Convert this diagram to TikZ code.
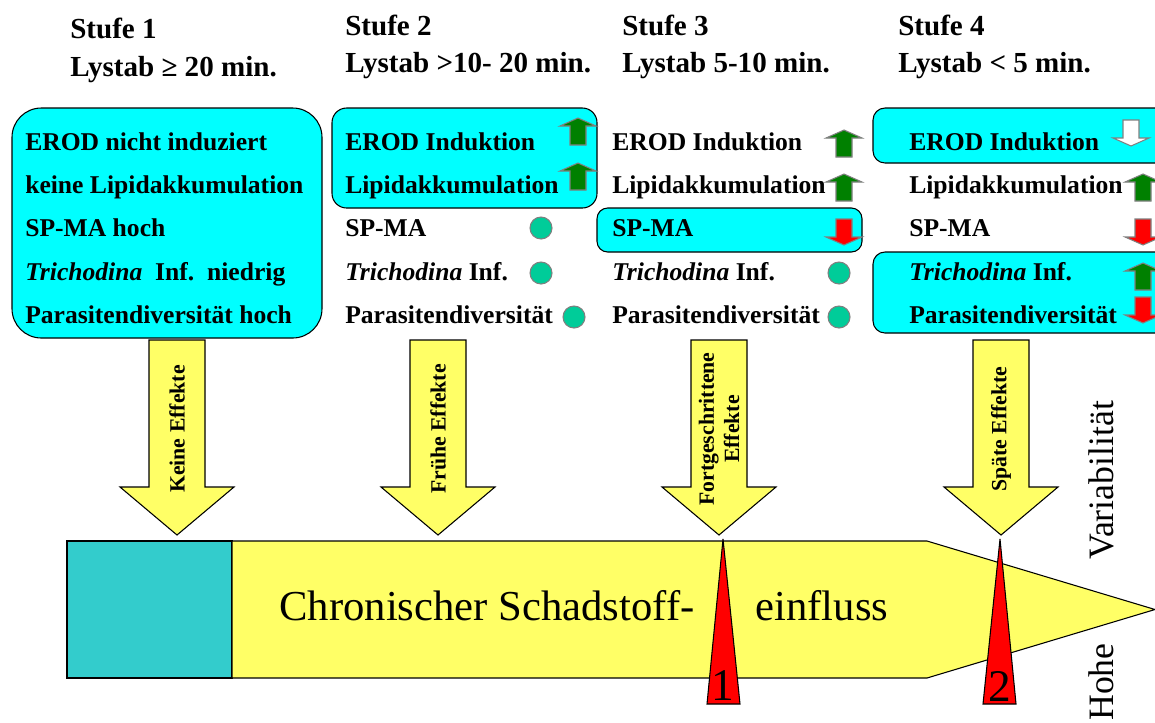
\documentclass[tikz,border=0pt]{standalone}
\usepackage{fontspec}
\setmainfont{LiberationSerif}[Extension=.ttf,UprightFont=*-Regular,BoldFont=*-Bold,
  ItalicFont=*-Italic,BoldItalicFont=*-BoldItalic]
\usetikzlibrary{positioning}
\definecolor{boxcyan}{rgb}{0,1,1}
\definecolor{bandcyan}{RGB}{51,204,204}
\definecolor{bandyellow}{RGB}{255,255,102}
\definecolor{upgreen}{RGB}{0,128,0}
\definecolor{dotgreen}{RGB}{0,204,153}

% small block arrows: x, tip/top y, fill
\newcommand{\uparr}[3]{%
  \filldraw[fill=#3,draw=gray,line width=0.8pt] (#1,#2) -- (#1+18,#2+8) -- (#1+8,#2+8)
    -- (#1+8,#2+27) -- (#1-8,#2+27) -- (#1-8,#2+8) -- (#1-18,#2+8) -- cycle;}
\newcommand{\downarr}[3]{%
  \filldraw[fill=#3,draw=gray,line width=0.8pt] (#1-8,#2) -- (#1+8,#2) -- (#1+8,#2+18)
    -- (#1+18,#2+18) -- (#1,#2+26) -- (#1-18,#2+18) -- (#1-8,#2+18) -- cycle;}

\begin{document}
\begin{tikzpicture}[x=0.75pt,y=-0.75pt,
    hdr/.style={anchor=base west,inner sep=0pt,font=\fontsize{21.8}{26}\selectfont\bfseries},
    row/.style={anchor=base west,inner sep=0pt,font=\fontsize{19.2}{23}\selectfont\bfseries},
    cbox/.style={draw=black,fill=boxcyan,line width=0.8pt},
    dot/.style={circle,draw=gray,fill=dotgreen,inner sep=0pt,minimum size=16.5pt,line width=0.8pt},
    bigarr/.style={draw=black,fill=bandyellow,line width=0.8pt},
    arrlbl/.style={rotate=90,align=center,inner sep=0pt,font=\fontsize{16.3}{19}\selectfont\bfseries},
    big/.style={inner sep=0pt,font=\fontsize{32}{38}\selectfont}]
  \useasboundingbox (0,0) rectangle (1155,722);
  \clip (0,0) rectangle (1155,722); % cut the boxes at the right border

  % headers
  \node[hdr] (s1) at (70,38) {Stufe 1};
  \node[hdr] (l1) at (70,76) {Lystab ≥ 20 min.};
  \node[hdr] (s2) at (345,35) {Stufe 2};
  \node[hdr] (l2) at (345,72) {Lystab >10- 20 min.};
  \node[hdr] (s3) at (622,35) {Stufe 3};
  \node[hdr] (l3) at (622,72) {Lystab 5-10 min.};
  \node[hdr] (s4) at (898,35) {Stufe 4};
  \node[hdr] (l4) at (898,72) {Lystab < 5 min.};

  % boxes
  \draw[cbox,rounded corners=22pt] (12,108) rectangle (322,338);
  \draw[cbox,rounded corners=11pt] (332,108) rectangle (597,208);
  \draw[cbox,rounded corners=8pt] (597,208) rectangle (862,252);
  \draw[cbox,rounded corners=9pt] (873,108) rectangle (1170,163);
  \draw[cbox,rounded corners=9pt] (873,252) rectangle (1170,333);

  % Stufe 1
  \node[row] (a1) at (25,150) {EROD nicht induziert};
  \node[row] (a2) at (25,193) {keine Lipidakkumulation};
  \node[row] (a3) at (25,236) {SP-MA hoch};
  \node[row] (a4) at (25,280) {\textit{Trichodina}\ \ Inf.\ \ niedrig};
  \node[row] (a5) at (25,323) {Parasitendiversität hoch};

  % Stufe 2
  \node[row] (b1) at (345,150) {EROD Induktion};
  \node[row] (b2) at (345,193) {Lipidakkumulation};
  \node[row] (b3) at (345,236) {SP-MA};
  \node[row] (b4) at (345,280) {\textit{Trichodina} Inf.};
  \node[row] (b5) at (345,323) {Parasitendiversität};
  \uparr{578}{118}{upgreen}
  \uparr{578}{163}{upgreen}
  \node[dot] (d3) at (541,228) {};
  \node[dot] (d4) at (541,273) {};
  \node[dot] (d5) at (574,317) {};

  % Stufe 3
  \node[row] (c1) at (612,150) {EROD Induktion};
  \node[row] (c2) at (612,193) {Lipidakkumulation};
  \node[row] (c3) at (612,236) {SP-MA};
  \node[row] (c4) at (612,280) {\textit{Trichodina} Inf.};
  \node[row] (c5) at (612,323) {Parasitendiversität};
  \uparr{844}{130}{upgreen}
  \uparr{844}{174}{upgreen}
  \downarr{844}{219}{red}
  \node[dot] (e4) at (839,273) {};
  \node[dot] (e5) at (839,317) {};

  % Stufe 4
  \node[row] (f1) at (909,150) {EROD Induktion};
  \node[row] (f2) at (909,193) {Lipidakkumulation};
  \node[row] (f3) at (909,236) {SP-MA};
  \node[row] (f4) at (909,280) {\textit{Trichodina} Inf.};
  \node[row] (f5) at (909,323) {Parasitendiversität};
  \downarr{1131}{120}{white}
  \uparr{1143}{174}{upgreen}
  \downarr{1143}{219}{red}
  \uparr{1143}{263}{upgreen}
  \downarr{1143}{297}{red}

  % effect arrows
  \foreach \cx/\lbl in {177/Keine Effekte, 438/Frühe Effekte,
      719/{Fortgeschrittene\\Effekte}, 1001/Späte Effekte}{
    \filldraw[bigarr] (\cx-28,340) -- (\cx+28,340) -- (\cx+28,487) -- (\cx+57,487)
      -- (\cx,535) -- (\cx-57,487) -- (\cx-28,487) -- cycle;
    \node[arrlbl] (x\cx) at (\cx,429) {\lbl};
  }

  % time band
  \filldraw[draw=black,fill=bandcyan,line width=0.8pt] (67,541) rectangle (232,678);
  \filldraw[draw=black,fill=bandyellow,line width=0.8pt] (232,541) -- (927,541)
    -- (1155,609.5) -- (927,678) -- (232,678) -- cycle;
  \node[big,anchor=base] (chr) at (487,620) {Chronischer Schadstoff-};
  \node[big,anchor=base] (ein) at (822,620) {einfluss};

  % markers
  \filldraw[draw=black,fill=red,line width=0.8pt] (723,539) -- (740,704) -- (707,704) -- cycle;
  \filldraw[draw=black,fill=red,line width=0.8pt] (1000,539) -- (1016,704) -- (983,704) -- cycle;
  \node[anchor=base,inner sep=0pt,font=\fontsize{34}{40}\selectfont] (n1) at (723,700) {1};
  \node[anchor=base,inner sep=0pt,font=\fontsize{34}{40}\selectfont] (n2) at (1000,701) {2};

  % side label
  \node[rotate=90,anchor=base west,inner sep=0pt,font=\fontsize{26.8}{32}\selectfont] (hv1) at (1113,721) {Hohe};
  \node[rotate=90,anchor=base west,inner sep=0pt,font=\fontsize{26.8}{32}\selectfont] (hv2) at (1113,560) {Variabilität};
\end{tikzpicture}
\end{document}
